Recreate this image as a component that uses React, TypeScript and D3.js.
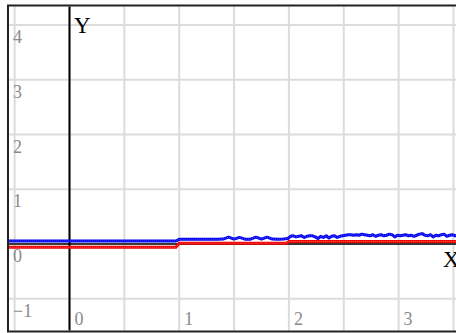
import React from "react";
import * as d3 from "d3";

// ---- data ----
const xGridTicks = [-0.5, 0, 0.5, 1, 1.5, 2, 2.5, 3, 3.5];
const yGridTicks = [-1, 0, 1, 2, 3, 4];
const xTickLabels = [0, 1, 2, 3];
const yTickLabels = [-1, 0, 1, 2, 3, 4];

// red series (step-like)
const redX = [-0.6, 0.97, 1.0, 1.98, 2.0, 3.6];
const redY = [-0.06, -0.06, 0.015, 0.015, 0.045, 0.045];

// blue series
const blueFlatX = [-0.6, 0.97];
const blueFlatY = [0.055, 0.055];
const blueMidStart = 1.0;
const blueMidStep = 0.05;
const blueMidY = [0.085, 0.088, 0.088, 0.088, 0.088, 0.088, 0.088, 0.088, 0.09, 0.125, 0.09, 0.12, 0.088, 0.088, 0.125, 0.09, 0.125, 0.09, 0.088, 0.09];
const blueNoiseStart = 1.99;
const blueNoiseStep = 0.025;
const blueNoiseY = [
  0.1, 0.14, 0.15, 0.13, 0.14, 0.15, 0.12, 0.14, 0.15, 0.15, 0.13, 0.1, 0.14, 0.12, 0.15, 0.11, 0.14, 0.15, 0.12, 0.14, 0.15,
  0.16, 0.17, 0.17, 0.16, 0.17, 0.16, 0.18, 0.17, 0.16, 0.15, 0.17, 0.14, 0.16, 0.17, 0.15, 0.16, 0.18, 0.17, 0.13, 0.16,
  0.15, 0.16, 0.17, 0.15, 0.16, 0.14, 0.16, 0.18, 0.19, 0.16, 0.15, 0.17, 0.13, 0.16, 0.15, 0.17, 0.18, 0.14, 0.16, 0.17, 0.15, 0.16,
];

const W = 456;
const H = 333;

export default function App() {
  const x = d3.scaleLinear().domain([0, 1]).range([69.5, 179.2]);
  const y = d3.scaleLinear().domain([0, 1]).range([244, 189.25]);

  const line = d3
    .line<[number, number]>()
    .x((d) => x(d[0]))
    .y((d) => y(d[1]));

  const redPts: [number, number][] = redX.map((v, i) => [v, redY[i]]);
  const bluePts: [number, number][] = [
    ...blueFlatX.map((v, i) => [v, blueFlatY[i]] as [number, number]),
    ...blueMidY.map((v, i) => [blueMidStart + i * blueMidStep, v] as [number, number]),
    ...blueNoiseY.map((v, i) => [blueNoiseStart + i * blueNoiseStep, v] as [number, number]),
  ];

  const serif = "'Liberation Serif', 'Times New Roman', serif";

  return (
    <svg
      width={W}
      height={H}
      style={{ position: "fixed", left: 0, top: 0, background: "#fff" }}
    >
      <defs>
        <clipPath id="plot">
          <rect x={9} y={6.5} width={W} height={324} />
        </clipPath>
      </defs>
      <g clipPath="url(#plot)">
        {xGridTicks.map((t) => (
          <line key={"gx" + t} x1={x(t)} x2={x(t)} y1={0} y2={H} stroke="#dcdcdc" strokeWidth={2} />
        ))}
        {yGridTicks.map((t) => (
          <line key={"gy" + t} x1={0} x2={W} y1={y(t)} y2={y(t)} stroke="#dcdcdc" strokeWidth={2} />
        ))}
        {/* axes */}
        <line x1={x(0)} x2={x(0)} y1={0} y2={H} stroke="#000" strokeWidth={2} />
        <line x1={0} x2={W} y1={y(0)} y2={y(0)} stroke="#000" strokeWidth={1.5} />

        {/* tick labels */}
        {xTickLabels.map((t) => (
          <text key={"xl" + t} x={x(t) + 5} y={325} fontFamily={serif} fontSize={18} fill="#8a8a8a">
            {t}
          </text>
        ))}
        {yTickLabels.map((t) => (
          <text key={"yl" + t} x={13} y={y(t) + 18} fontFamily={serif} fontSize={18} fill="#8a8a8a">
            {t < 0 ? "\u2212" + Math.abs(t) : t}
          </text>
        ))}

        {/* series */}
        <path d={line(redPts) || ""} fill="none" stroke="#ee0000" strokeWidth={3} />
        <path d={line(redPts) || ""} fill="none" stroke="#ff5a5a" strokeWidth={1} strokeDasharray="1 1" />
        <path d={line(bluePts) || ""} fill="none" stroke="#0000ee" strokeWidth={3} strokeLinejoin="round" />
        <path d={line(bluePts) || ""} fill="none" stroke="#5a5aff" strokeWidth={1} strokeDasharray="1 1" />

        {/* axis names */}
        <text x={74} y={33} fontFamily={serif} fontSize={23} fill="#000">
          Y
        </text>
        <text x={443} y={267} fontFamily={serif} fontSize={23} fill="#000">
          X
        </text>
      </g>
      {/* border */}
      <rect x={8} y={5.5} width={W + 20} height={326} fill="none" stroke="#222" strokeWidth={2} />
    </svg>
  );
}
